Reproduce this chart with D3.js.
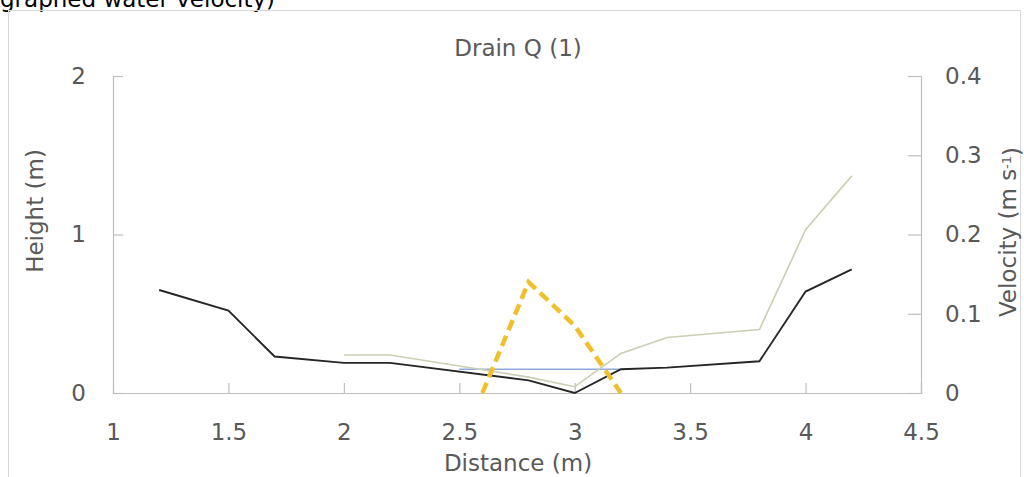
<!DOCTYPE html>
<html>
<head>
<meta charset="utf-8">
<script src="https://cdn.jsdelivr.net/npm/d3@7"></script>
<style>
  body { margin: 0; background: #fff; }
  svg { display: block; }
</style>
</head>
<body>
<div id="chart"></div>
<script>
// ground profile (left axis, m)
const groundDist = [1.2, 1.5, 1.7, 2.0, 2.2, 2.8, 3.0, 3.2, 3.4, 3.8, 4.0, 4.2];
const groundHeight = [0.65, 0.52, 0.23, 0.19, 0.19, 0.08, 0, 0.15, 0.16, 0.2, 0.64, 0.78];

// second profile, pale line (left axis, m)
const profileDist = [2.0, 2.2, 2.5, 2.8, 3.0, 3.2, 3.4, 3.8, 4.0, 4.2];
const profileHeight = [0.24, 0.24, 0.17, 0.1, 0.04, 0.25, 0.35, 0.4, 1.03, 1.37];

// water surface (left axis, m)
const waterDist = [2.5, 3.2];
const waterLevel = [0.15, 0.15];

// velocity (right axis, m/s)
const velDist = [2.6, 2.8, 3.0, 3.2];
const velocity = [0, 0.14, 0.085, 0];

const xTicks = [1, 1.5, 2, 2.5, 3, 3.5, 4, 4.5];
const leftTicks = [0, 1, 2];
const rightTicks = [0, 0.1, 0.2, 0.3, 0.4];

const W = 1024, H = 477;
const font = "'DejaVu Sans', sans-serif";
const textColor = "#595959";
const axisColor = "#bfbfbf";

const svg = d3.select("#chart").append("svg")
    .attr("width", W)
    .attr("height", H);

// page text cut off above the chart (cut in the reference too)
svg.append("text")
    .attr("x", 0)
    .attr("y", 7)
    .style("font-family", font)
    .style("font-size", "23px")
    .style("fill", "#000")
    .text("graphed water velocity)");

// chart frame
svg.append("rect")
    .attr("x", 8.5).attr("y", 10.5)
    .attr("width", 1012).attr("height", 490)
    .attr("fill", "none")
    .attr("stroke", "#d9d9d9");

const x = d3.scaleLinear().domain([1, 4.5]).range([113, 921]);
const yL = d3.scaleLinear().domain([0, 2]).range([393, 76]);
const yR = d3.scaleLinear().domain([0, 0.4]).range([393, 76]);

// axes
const xAxis = svg.append("g")
    .attr("transform", "translate(0,393)")
    .call(d3.axisBottom(x).tickValues(xTicks).tickSize(-10).tickPadding(31).tickFormat(d3.format("")));
const leftAxis = svg.append("g")
    .attr("transform", "translate(113,0)")
    .call(d3.axisLeft(yL).tickValues(leftTicks).tickSize(-10).tickPadding(27).tickFormat(d3.format("d")));
const rightAxis = svg.append("g")
    .attr("transform", "translate(921,0)")
    .call(d3.axisRight(yR).tickValues(rightTicks).tickSize(-13).tickPadding(24)
        .tickFormat(d => d === 0 ? "0" : d3.format(".1f")(d)));

[xAxis, leftAxis, rightAxis].forEach(a => {
    a.select(".domain").attr("stroke", axisColor).attr("stroke-width", 1.2);
    a.selectAll(".tick line").attr("stroke", axisColor).attr("stroke-width", 1.2);
    a.selectAll(".tick text")
        .style("font-family", font)
        .style("font-size", "23px")
        .attr("fill", textColor);
});
xAxis.selectAll(".tick text").attr("dy", "0.71em");
// first x tick sits on the left axis
xAxis.selectAll(".tick line").filter(d => d === 1).remove();

// lines
const lineL = d3.line().x(d => x(d[0])).y(d => yL(d[1]));
const lineR = d3.line().x(d => x(d[0])).y(d => yR(d[1]));

svg.append("path")
    .datum(d3.zip(waterDist, waterLevel))
    .attr("d", lineL)
    .attr("fill", "none")
    .attr("stroke", "#8eaadb")
    .attr("stroke-width", 1.3);

svg.append("path")
    .datum(d3.zip(profileDist, profileHeight))
    .attr("d", lineL)
    .attr("fill", "none")
    .attr("stroke", "#c8d0b4")
    .attr("stroke-width", 1.6);

svg.append("path")
    .datum(d3.zip(groundDist, groundHeight))
    .attr("d", lineL)
    .attr("fill", "none")
    .attr("stroke", "#262626")
    .attr("stroke-width", 1.9);

svg.append("path")
    .datum(d3.zip(velDist, velocity))
    .attr("d", lineR)
    .attr("fill", "none")
    .attr("stroke", "#f0c02c")
    .attr("stroke-width", 4.5)
    .attr("stroke-dasharray", "11,6");

// titles
svg.append("text")
    .attr("x", 518).attr("y", 56)
    .attr("text-anchor", "middle")
    .style("font-family", font)
    .style("font-size", "23px")
    .style("fill", textColor)
    .text("Drain Q (1)");

svg.append("text")
    .attr("x", 518).attr("y", 471)
    .attr("text-anchor", "middle")
    .style("font-family", font)
    .style("font-size", "23px")
    .style("fill", textColor)
    .text("Distance (m)");

svg.append("text")
    .attr("transform", "translate(43,211) rotate(-90)")
    .attr("text-anchor", "middle")
    .style("font-family", font)
    .style("font-size", "23px")
    .style("fill", textColor)
    .text("Height (m)");

const vt = svg.append("text")
    .attr("transform", "translate(1016,232) rotate(-90)")
    .attr("text-anchor", "middle")
    .style("font-family", font)
    .style("font-size", "23px")
    .style("fill", textColor);
vt.append("tspan").text("Velocity (m s");
vt.append("tspan").attr("dy", "-0.35em").style("font-size", "13px").text("-1");
vt.append("tspan").attr("dy", "0.35em").text(")");
</script>
</body>
</html>
